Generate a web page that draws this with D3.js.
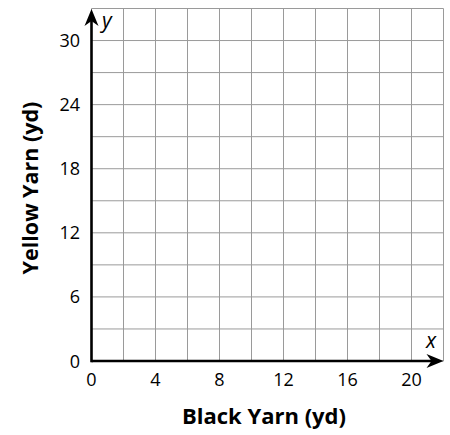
<!DOCTYPE html>
<html><head><meta charset="utf-8">
<script src="https://cdn.jsdelivr.net/npm/d3@7"></script>
<style>body{margin:0;background:#fff}svg{display:block}</style>
</head><body>
<svg id="c" width="450" height="435"></svg>
<script>
const xTicks = [0, 4, 8, 12, 16, 20];
const yTicks = [0, 6, 12, 18, 24, 30];
const xGrid = [0, 2, 4, 6, 8, 10, 12, 14, 16, 18, 20, 22];
const yGrid = [0, 3, 6, 9, 12, 15, 18, 21, 24, 27, 30, 33];
const xTitle = "Black Yarn (yd)";
const yTitle = "Yellow Yarn (yd)";

const svg = d3.select("#c");
const font = "'Open Sans', sans-serif";
const x = d3.scaleLinear().domain([0, 22]).range([91.5, 443.5]);
const y = d3.scaleLinear().domain([0, 33]).range([361, 8.5]);

const g = svg.append("g");
g.selectAll("line.v").data(xGrid).join("line")
  .attr("x1", d => x(d)).attr("x2", d => x(d))
  .attr("y1", y(0)).attr("y2", y(33))
  .attr("stroke", "#9a9a9a").attr("stroke-width", 1);
g.selectAll("line.h").data(yGrid).join("line")
  .attr("y1", d => y(d)).attr("y2", d => y(d))
  .attr("x1", x(0)).attr("x2", x(22))
  .attr("stroke", "#9a9a9a").attr("stroke-width", 1);

function arrowHead(tx, ty, dir) {
  const L = 17, W = 7, I = 5;
  let p;
  if (dir === "up") p = `M${tx},${ty} L${tx + W},${ty + L} L${tx},${ty + L - I} L${tx - W},${ty + L} Z`;
  else p = `M${tx},${ty} L${tx - L},${ty - W} L${tx - L + I},${ty} L${tx - L},${ty + W} Z`;
  svg.append("path").attr("d", p).attr("fill", "#000");
}
svg.append("line").attr("x1", x(0)).attr("x2", x(22) - 8).attr("y1", y(0)).attr("y2", y(0))
  .attr("stroke", "#000").attr("stroke-width", 2.6);
svg.append("line").attr("x1", x(0)).attr("x2", x(0)).attr("y1", y(0) + 1.3).attr("y2", y(33) + 8)
  .attr("stroke", "#000").attr("stroke-width", 2.6);
arrowHead(x(22), y(0), "right");
arrowHead(x(0), y(33) + 0.5, "up");

svg.selectAll("text.xt").data(xTicks).join("text")
  .attr("x", d => x(d)).attr("y", 386).attr("text-anchor", "middle")
  .attr("font-family", font).attr("font-size", 18).text(d => d);
svg.selectAll("text.yt").data(yTicks).join("text")
  .attr("x", 80).attr("y", d => y(d) + 6.5).attr("text-anchor", "end")
  .attr("font-family", font).attr("font-size", 18).text(d => d);

svg.append("text").attr("x", 102).attr("y", 28).attr("font-family", font)
  .attr("font-style", "italic").attr("font-size", 21).text("y");
svg.append("text").attr("x", 426).attr("y", 348).attr("font-family", font)
  .attr("font-style", "italic").attr("font-size", 21).text("x");

svg.append("text").attr("x", 264).attr("y", 424).attr("text-anchor", "middle")
  .attr("font-family", font).attr("font-weight", "bold").attr("font-size", 22).text(xTitle);
svg.append("text").attr("transform", "translate(38,188) rotate(-90)").attr("text-anchor", "middle")
  .attr("font-family", font).attr("font-weight", "bold").attr("font-size", 21.5).text(yTitle);
</script>
</body></html>
